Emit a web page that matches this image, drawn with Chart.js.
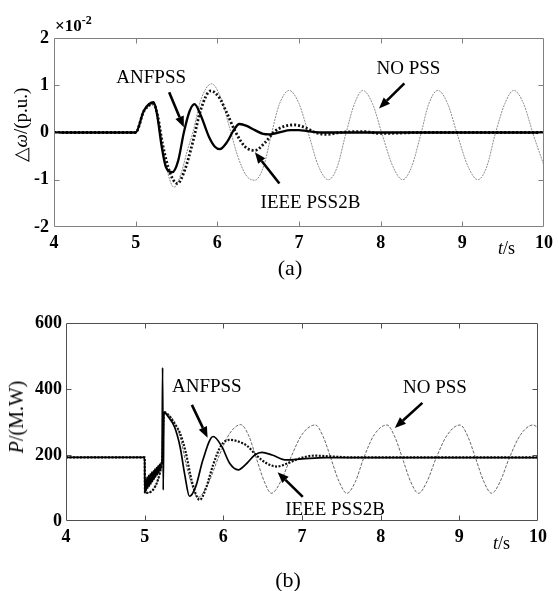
<!DOCTYPE html>
<html><head><meta charset="utf-8">
<script src="https://cdn.jsdelivr.net/npm/chart.js@4.4.1/dist/chart.umd.min.js"></script>
<style>
html,body{margin:0;padding:0;background:#fff;width:559px;height:591px;overflow:hidden;}
#wrap{position:relative;width:559px;height:591px;font-family:"Liberation Serif","Times New Roman",serif;color:#000;}
.c{position:absolute;left:0;}
.t{position:absolute;white-space:nowrap;line-height:1;}
</style></head><body>
<div id="wrap">
<div class="c" style="top:0;width:559px;height:295px"><canvas id="ca" width="559" height="295"></canvas></div>
<div class="c" style="top:295px;width:559px;height:296px"><canvas id="cb" width="559" height="296"></canvas></div>
<div class="t" style="left:55px;top:17px;font-weight:bold;font-size:17px">×10<span style="position:relative;top:-7px;font-size:12px">-2</span></div>
<div class="t" style="left:20px;top:125px;transform:translate(-50%,-50%) rotate(-90deg);font-size:19px">△<i>ω</i>/(p.u.)</div>
<div class="t" style="left:16px;top:417px;transform:translate(-50%,-50%) rotate(-90deg);font-size:20px"><i>P</i>/(M.W)</div>
<div class="t" style="left:498px;top:239px;font-size:18px"><i>t</i>/s</div>
<div class="t" style="left:493px;top:534px;font-size:18px"><i>t</i>/s</div>
<div class="t" style="left:290px;top:257px;transform:translateX(-50%);font-size:22px">(a)</div>
<div class="t" style="left:288px;top:569px;transform:translateX(-50%);font-size:22px">(b)</div>
</div>
<script>
// ---------- Data (a): rotor speed deviation, x10^-2 p.u. ----------
const topAnfT = [4, 5.0, 5.1, 5.22, 5.26, 5.32, 5.37, 5.45, 5.52, 5.59, 5.66, 5.72, 5.8, 5.9, 5.97, 6.03, 6.12, 6.2, 6.27, 6.36, 6.46, 6.56, 6.64, 6.75, 6.9, 7.0, 7.1, 7.3, 10];
const topAnfV = [0, 0, 0.46, 0.64, 0.4, -0.31, -0.73, -0.84, -0.6, 0.0, 0.45, 0.6, 0.35, -0.1, -0.3, -0.35, -0.2, 0.05, 0.18, 0.14, 0.05, -0.03, -0.04, 0.0, 0.05, 0.05, 0.03, 0.0, 0.0];
const topIeeeT = [4, 5.0, 5.1, 5.22, 5.27, 5.33, 5.42, 5.51, 5.6, 5.7, 5.8, 5.92, 6.02, 6.12, 6.22, 6.34, 6.46, 6.58, 6.7, 6.82, 6.95, 7.08, 7.2, 7.35, 7.5, 7.8, 8.0, 8.5, 10];
const topIeeeV = [0, 0, 0.45, 0.6, 0.35, -0.25, -0.85, -1.08, -0.8, -0.2, 0.5, 0.88, 0.75, 0.4, 0.02, -0.3, -0.38, -0.22, 0.02, 0.13, 0.16, 0.1, 0.0, -0.04, 0.0, 0.02, -0.02, 0.0, 0];
const topNoT = [4, 5.0, 5.1, 5.22, 5.27, 5.33, 5.40, 5.47, 5.55, 5.63, 5.70, 5.80, 5.93, 6.05, 6.15, 6.25, 6.35, 6.46, 6.57, 6.66, 6.76, 6.88, 7.00, 7.12, 7.24, 7.36, 7.47, 7.57, 7.68, 7.78, 7.90, 8.02, 8.15, 8.27, 8.38, 8.49, 8.59, 8.70, 8.82, 8.94, 9.07, 9.19, 9.30, 9.40, 9.52, 9.63, 9.75, 9.87, 10.0];
const topNoV = [0, 0, 0.45, 0.6, 0.35, -0.3, -0.9, -1.16, -0.9, -0.4, 0.0, 0.7, 1.03, 0.7, 0.1, -0.5, -0.9, -1.01, -0.7, -0.05, 0.6, 0.89, 0.61, -0.05, -0.72, -1.0, -0.72, -0.05, 0.61, 0.89, 0.61, -0.05, -0.72, -1.0, -0.72, -0.05, 0.61, 0.89, 0.61, -0.05, -0.72, -1.0, -0.72, -0.05, 0.61, 0.89, 0.61, -0.05, -0.70];

// ---------- Data (b): electrical power, MW ----------
const botAnfT = [4, 5.0, 5.001, 5.01, 5.02, 5.03, 5.04, 5.05, 5.06, 5.07, 5.08, 5.09, 5.10, 5.11, 5.12, 5.13, 5.14, 5.15, 5.16, 5.17, 5.18, 5.19, 5.20, 5.21, 5.22, 5.228, 5.236, 5.245, 5.3, 5.38, 5.45, 5.51, 5.57, 5.65, 5.74, 5.87, 5.98, 6.08, 6.19, 6.3, 6.4, 6.49, 6.62, 6.8, 7.0, 7.3, 10];
const botAnfV = [193, 193, 85, 127, 92, 133, 99, 138, 105, 143, 112, 148, 119, 152, 126, 157, 133, 162, 140, 167, 146, 172, 153, 177, 178, 465, 94, 330, 316, 285, 225, 140, 75, 105, 185, 256, 226, 175, 155, 175, 200, 208, 200, 185, 188, 192, 192];
const botIeeeT = [4, 5.0, 5.004, 5.22, 5.245, 5.3, 5.38, 5.45, 5.52, 5.6, 5.7, 5.78, 5.87, 5.97, 6.08, 6.2, 6.3, 6.43, 6.55, 6.68, 6.82, 6.95, 7.15, 7.35, 7.6, 10];
const botIeeeV = [193, 193, 85, 175, 330, 322, 295, 266, 210, 120, 64, 100, 170, 228, 246, 240, 228, 197, 175, 165, 175, 188, 198, 196, 193, 193];
const botNoT = [4, 5.0, 5.004, 5.22, 5.245, 5.3, 5.38, 5.45, 5.55, 5.68, 5.8, 5.95, 6.08, 6.22, 6.32, 6.42, 6.52, 6.61, 6.73, 6.85, 7.0, 7.17, 7.27, 7.37, 7.47, 7.57, 7.68, 7.78, 7.92, 8.08, 8.18, 8.28, 8.38, 8.48, 8.59, 8.70, 8.85, 9.01, 9.11, 9.21, 9.31, 9.41, 9.52, 9.63, 9.78, 9.94, 10.0];
const botNoV = [193, 193, 85, 175, 330, 322, 300, 255, 150, 72, 110, 200, 265, 292, 260, 190, 120, 84, 120, 188, 262, 291, 255, 188, 120, 84, 120, 188, 262, 291, 255, 188, 120, 84, 120, 188, 262, 291, 255, 188, 120, 84, 120, 188, 262, 291, 282];

// ---------- Tick / axis ranges ----------
const xTicksMin = 4, xTicksMax = 10, xStep = 1;
const topYMin = -2, topYMax = 2, topYStep = 1;
const botYMin = 0, botYMax = 600, botYStep = 200;

// annotation labels in data units
const topNotes = [
  {text:'ANFPSS', t:5.19, v:1.16, tail:[5.41,0.85], head:[5.59,0.11]},
  {text:'NO PSS', t:8.34, v:1.35, tail:[8.29,1.04], head:[7.98,0.51]},
  {text:'IEEE PSS2B', t:7.14, v:-1.50, tail:[6.76,-1.08], head:[6.46,-0.42]}
];
const botNotes = [
  {text:'ANFPSS', t:5.79, v:406, tail:[5.60,352], head:[5.80,252]},
  {text:'NO PSS', t:8.69, v:403, tail:[8.53,358], head:[8.18,282]},
  {text:'IEEE PSS2B', t:7.42, v:33, tail:[7.01,73], head:[6.69,148]}
];

const SERIF = '"Liberation Serif","Times New Roman",serif';

const framePlugin = {
  id:'frame',
  afterDatasetsDraw(chart, args, opts){
    const ctx = chart.ctx, a = chart.chartArea, x = chart.scales.x, y = chart.scales.y;
    ctx.save();
    ctx.strokeStyle = opts.axisColor; ctx.lineWidth = 1;
    const L = Math.round(a.left)+0.5, R = Math.round(a.right)-0.5, T = Math.round(a.top)+0.5, B = Math.round(a.bottom)-0.5;
    ctx.beginPath(); ctx.rect(L, T, R-L, B-T); ctx.stroke();
    ctx.beginPath();
    x.ticks.forEach(tk=>{
      const px = Math.round(x.getPixelForValue(tk.value))+0.5;
      if (px <= L+2 || px >= R-2) return;
      ctx.moveTo(px,B); ctx.lineTo(px,B-5); ctx.moveTo(px,T); ctx.lineTo(px,T+5);
    });
    y.ticks.forEach(tk=>{
      const py = Math.round(y.getPixelForValue(tk.value))+0.5;
      if (py <= T+2 || py >= B-2) return;
      ctx.moveTo(L,py); ctx.lineTo(L+5,py); ctx.moveTo(R,py); ctx.lineTo(R-5,py);
    });
    ctx.stroke();
    // annotations
    ctx.fillStyle = '#000'; ctx.strokeStyle = '#000';
    ctx.font = '19px ' + SERIF; ctx.textAlign = 'center'; ctx.textBaseline = 'middle';
    opts.notes.forEach(n=>{
      ctx.fillText(n.text, x.getPixelForValue(n.t), y.getPixelForValue(n.v));
      const x1 = x.getPixelForValue(n.tail[0]), y1 = y.getPixelForValue(n.tail[1]);
      const x2 = x.getPixelForValue(n.head[0]), y2 = y.getPixelForValue(n.head[1]);
      const ang = Math.atan2(y2-y1, x2-x1), hl = 11, hw = 4.5;
      const bx = x2 - hl*Math.cos(ang), by = y2 - hl*Math.sin(ang);
      ctx.lineWidth = 2.6;
      ctx.beginPath(); ctx.moveTo(x1,y1); ctx.lineTo(bx,by); ctx.stroke();
      ctx.beginPath(); ctx.moveTo(x2,y2);
      ctx.lineTo(bx + hw*Math.sin(ang), by - hw*Math.cos(ang));
      ctx.lineTo(bx - hw*Math.sin(ang), by + hw*Math.cos(ang));
      ctx.closePath(); ctx.fill();
    });
    ctx.restore();
  }
};

function series(label, t, v, color, width, dash, order){
  return {label, data:t.map((tt,i)=>({x:tt, y:v[i]})), borderColor:color, borderWidth:width,
    borderDash:dash, pointRadius:0, fill:false, cubicInterpolationMode:'monotone', order};
}

function makeChart(id, c){
  const tickFont = {family:SERIF, size:18, weight:'bold'};
  return new Chart(document.getElementById(id), {
    type:'line',
    data:{datasets:c.sets},
    options:{
      responsive:false, animation:false, devicePixelRatio:1,
      layout:{padding:{left:0, right:c.padR, top:c.padT, bottom:0}},
      plugins:{legend:{display:false}, tooltip:{enabled:false},
        frame:{axisColor:c.axisColor, notes:c.notes}},
      scales:{
        x:{type:'linear', min:xTicksMin, max:xTicksMax,
          ticks:{stepSize:xStep, font:tickFont, color:'#000', padding:6, maxRotation:0, autoSkip:false},
          grid:{display:false, drawTicks:false}, border:{display:false},
          afterFit:s=>{s.height = c.xH;}},
        y:{type:'linear', min:c.yMin, max:c.yMax,
          ticks:{stepSize:c.yStep, font:tickFont, color:'#000', padding:c.yPad, autoSkip:false},
          grid:{display:false, drawTicks:false}, border:{display:false},
          afterFit:s=>{s.width = c.yW;}}
      }
    },
    plugins:[framePlugin]
  });
}

makeChart('ca', {
  sets:[
    series('ANFPSS', topAnfT, topAnfV, '#000', 2.3, [], 0),
    series('IEEE PSS2B', topIeeeT, topIeeeV, '#111', 2.8, [2,2], 1),
    series('NO PSS', topNoT, topNoV, '#8c8c8c', 1, [2,1], 2)
  ],
  padR:10, padT:38, xH:68, yW:54, yPad:5, yMin:topYMin, yMax:topYMax, yStep:topYStep,
  axisColor:'#808080', notes:topNotes
});

makeChart('cb', {
  sets:[
    series('ANFPSS', botAnfT, botAnfV, '#000', 1.7, [], 0),
    series('IEEE PSS2B', botIeeeT, botIeeeV, '#111', 2.2, [2,1.5], 1),
    series('NO PSS', botNoT, botNoV, '#555', 0.9, [3,1.5], 2)
  ],
  padR:21, padT:28, xH:70, yW:66, yPad:4, yMin:botYMin, yMax:botYMax, yStep:botYStep,
  axisColor:'#505050', notes:botNotes
});
</script>
</body></html>
